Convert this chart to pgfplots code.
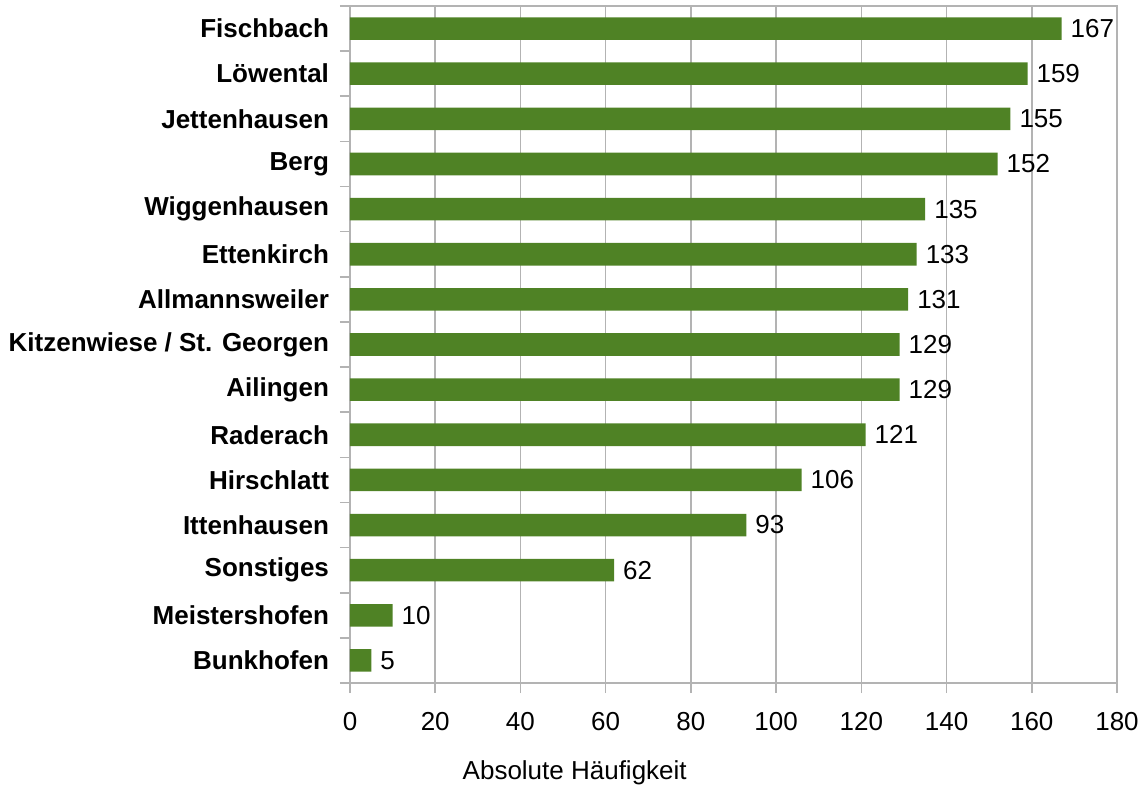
\documentclass[border=0pt]{standalone}
\usepackage{fontspec}
\setmainfont{Liberation Sans}
\usepackage{pgfplots}
\pgfplotsset{compat=1.18}
\usetikzlibrary{calc}
\definecolor{bargreen}{RGB}{79,130,37}
\definecolor{axgray}{RGB}{179,179,179}
\begin{document}
\fontsize{13}{15}\selectfont
\begin{tikzpicture}
\begin{axis}[
  scale only axis,
  width=383.5pt, height=338.5pt,
  xbar, bar width=0.5,
  xmin=0, xmax=180, ymin=-0.5, ymax=14.5,
  xtick={0,20,...,180},
  ytick={0,...,14},
  yticklabels={Bunkhofen,Meistershofen,Sonstiges,Ittenhausen,Hirschlatt,Raderach,Ailingen,Kitzenwiese / St. Georgen,Allmannsweiler,Ettenkirch,Wiggenhausen,Berg,Jettenhausen,Löwental,Fischbach},
  minor ytick={-0.5,0.5,...,14.5},
  major tick length=5pt, minor tick length=5pt,
  tick align=outside,
  tick pos=left,
  major y tick style={draw=none},
  minor y tick style={draw=axgray, line width=0.8pt},
  major x tick style={draw=axgray, line width=0.8pt},
  xmajorgrids, grid style={axgray, line width=0.8pt},
  axis line style={axgray, line width=0.8pt},
  /pgf/number format/assume math mode=true,
  tick label style={font=\fontsize{13}{15}\selectfont, black},
  yticklabel style={font=\fontsize{13}{15}\selectfont\bfseries, xshift=-1pt},
  xticklabel style={yshift=-5pt},
  nodes near coords,
  nodes near coords style={font=\fontsize{13}{15}\selectfont, black, /pgf/number format/assume math mode=true},
  xlabel={Absolute Häufigkeit},
  xlabel style={font=\fontsize{13}{15}\selectfont, at={(rel axis cs:0.293,0)}, anchor=center, yshift=-45pt},
  clip=false,
]
\addplot[fill=bargreen, draw=none] coordinates {
(5,0) (10,1) (62,2) (93,3) (106,4) (121,5) (129,6) (129,7) (131,8) (133,9) (135,10) (152,11) (155,12) (159,13) (167,14)};
\coordinate (bl) at (rel axis cs:0,0);
\end{axis}
\pgfresetboundingbox
\useasboundingbox ($(bl)+(-175pt,-53pt)$) rectangle ($(bl)+(399pt,341.5pt)$);
\end{tikzpicture}
\end{document}
